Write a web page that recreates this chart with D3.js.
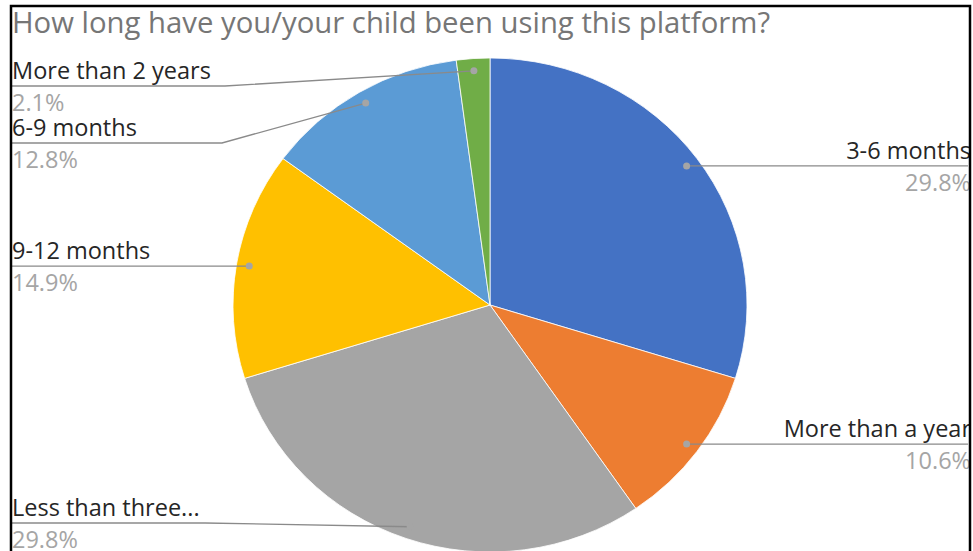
<!DOCTYPE html>
<html>
<head>
<meta charset="utf-8">
<script src="https://cdn.jsdelivr.net/npm/d3@7/dist/d3.min.js"></script>
<style>
  html, body { margin: 0; padding: 0; background: #fff; }
  svg { display: block; }
</style>
</head>
<body>
<svg id="chart" width="973" height="551"></svg>
<script>
// Survey answers, clockwise from 12 o'clock
const categories = ["3-6 months", "More than a year", "Less than three...", "9-12 months", "6-9 months", "More than 2 years"];
const percents = [29.8, 10.6, 29.8, 14.9, 12.8, 2.1];
const percentLabels = ["29.8%", "10.6%", "29.8%", "14.9%", "12.8%", "2.1%"];
const colors = ["#4472C4", "#ED7D31", "#A5A5A5", "#FFC000", "#5B9BD5", "#70AD47"];
const title = "How long have you/your child been using this platform?";

const W = 973, H = 551;
const cx = 490, cy = 305, rx = 257, ry = 247;
const frame = { left: 11, top: 6, right: 970 };

// label placement: side of the chart, leader line height, elbow x for left labels
const labelLayout = [
  { side: "right", lineY: null },
  { side: "right", lineY: null },
  { side: "left", lineY: 523, elbow: 205 },
  { side: "left", lineY: null, elbow: null },
  { side: "left", lineY: 143, elbow: 222 },
  { side: "left", lineY: 86, elbow: 225 }
];

const svg = d3.select("#chart");
const font = "'Open Sans', 'Noto Sans', sans-serif";

svg.append("defs").append("clipPath").attr("id", "inner")
  .append("rect").attr("x", frame.left + 1).attr("y", frame.top + 1)
  .attr("width", frame.right - frame.left - 2).attr("height", H);

const root = svg.append("g").attr("clip-path", "url(#inner)");

// title
root.append("text")
  .attr("x", 12).attr("y", 33)
  .attr("font-family", font).attr("font-size", 29.3)
  .attr("fill", "#767676")
  .text(title);

// pie (slightly flattened vertically)
const pie = d3.pie().sort(null).value(d => d)(percents);
const arc = d3.arc().innerRadius(0).outerRadius(rx);
const pieG = root.append("g").attr("transform", `translate(${cx},${cy}) scale(1,${ry / rx})`);
pieG.selectAll("path").data(pie).join("path")
  .attr("d", arc)
  .attr("fill", (d, i) => colors[i])
  .attr("stroke", "#fff").attr("stroke-width", 0.8)
  .attr("vector-effect", "non-scaling-stroke");

// anchor points for leader lines
const anchors = pie.map(d => {
  const a = (d.startAngle + d.endAngle) / 2;
  return [cx + rx * 0.95 * Math.sin(a), cy - ry * 0.95 * Math.cos(a)];
});

const labelG = root.append("g");
pie.forEach((d, i) => {
  const L = labelLayout[i];
  const [px, py] = anchors[i];
  const ly = L.lineY == null ? py : L.lineY;
  let pts;
  if (L.side === "right") {
    pts = [[px, py], [968, ly]];
  } else if (L.elbow != null) {
    pts = [[12, ly], [L.elbow, ly], [px, py]];
  } else {
    pts = [[12, ly], [px, py]];
  }
  labelG.append("path")
    .attr("d", d3.line()(pts))
    .attr("fill", "none").attr("stroke", "#8a8a8a").attr("stroke-width", 1.3);
  labelG.append("circle")
    .attr("cx", px).attr("cy", py).attr("r", 3.5)
    .attr("fill", "#a5a5a5");

  const tx = L.side === "right" ? 971 : 12;
  const anchor = L.side === "right" ? "end" : "start";
  labelG.append("text")
    .attr("x", tx).attr("y", ly - 7)
    .attr("text-anchor", anchor)
    .attr("font-family", font).attr("font-size", 23.5)
    .attr("fill", "#262626")
    .text(categories[i]);
  labelG.append("text")
    .attr("x", tx).attr("y", ly + 25)
    .attr("text-anchor", anchor)
    .attr("font-family", font).attr("font-size", 23.5)
    .attr("fill", "#a5a5a5")
    .text(percentLabels[i]);
});

// frame
svg.append("path")
  .attr("d", `M${frame.left},${H + 5} V${frame.top} H${frame.right} V${H + 5}`)
  .attr("fill", "none").attr("stroke", "#000").attr("stroke-width", 2.5);
</script>
</body>
</html>
